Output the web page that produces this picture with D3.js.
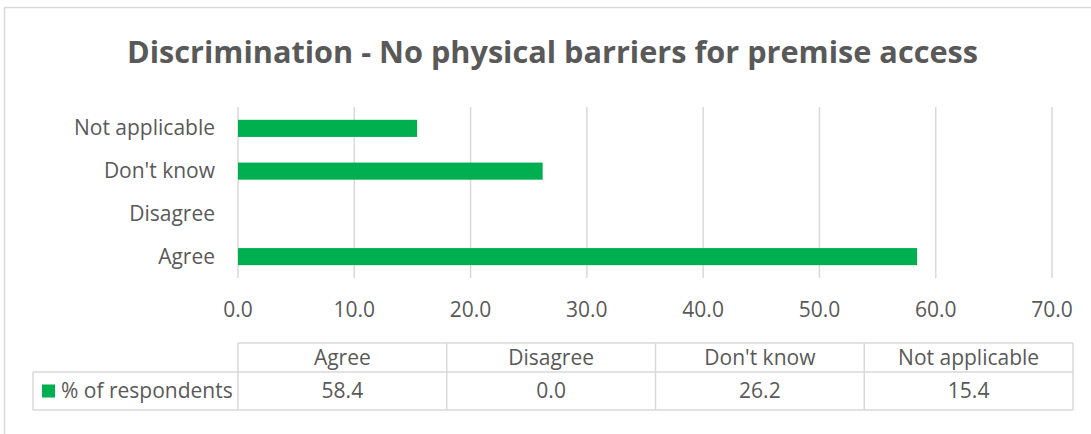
<!DOCTYPE html>
<html>
<head>
<meta charset="utf-8">
<script src="https://cdn.jsdelivr.net/npm/d3@7"></script>
<style>
  html, body { margin: 0; padding: 0; background: #fff; }
  svg { display: block; }
  text { font-family: "Open Sans", "Liberation Sans", sans-serif; fill: #595959; }
</style>
</head>
<body>
<svg id="chart" width="1091" height="434"></svg>
<script>
const title = "Discrimination - No physical barriers for premise access";
const categories = ["Agree", "Disagree", "Don't know", "Not applicable"];
const values = [58.4, 0.0, 26.2, 15.4];
const seriesName = "% of respondents";
const xTicks = [0, 10, 20, 30, 40, 50, 60, 70];

const green = "#00B050";
const grid = "#d9d9d9";
const svg = d3.select("#chart");

// outer chart border
svg.append("rect").attr("x", 4.5).attr("y", 7.5).attr("width", 1100).attr("height", 440)
  .attr("fill", "none").attr("stroke", "#d9d9d9").attr("stroke-width", 1.5);

// title
svg.append("text").attr("x", 552.5).attr("y", 63)
  .attr("text-anchor", "middle").attr("font-weight", "bold")
  .attr("font-size", 31).attr("textLength", 851).attr("lengthAdjust", "spacingAndGlyphs")
  .text(title);

const x = d3.scaleLinear().domain([0, 70]).range([238, 1052]);
const y = d3.scaleBand().domain(categories.slice().reverse()).range([107, 278])
  .paddingInner(0.6).paddingOuter(0.3);

// gridlines
svg.append("g").selectAll("line").data(xTicks).join("line")
  .attr("x1", d => x(d)).attr("x2", d => x(d))
  .attr("y1", 107).attr("y2", 278)
  .attr("stroke", grid).attr("stroke-width", 1.5);

// bars
svg.append("g").selectAll("rect").data(categories).join("rect")
  .attr("x", x(0))
  .attr("y", d => y(d))
  .attr("width", (d, i) => x(values[i]) - x(0))
  .attr("height", y.bandwidth())
  .attr("fill", green);

// y labels
const labelSize = 21;
svg.append("g").selectAll("text").data(categories).join("text")
  .attr("x", 215).attr("y", d => y(d) + y.bandwidth() / 2 + 7)
  .attr("text-anchor", "end").attr("font-size", labelSize).text(d => d);

// x tick labels
const fmt = d3.format(".1f");
svg.append("g").selectAll("text").data(xTicks).join("text")
  .attr("x", d => x(d)).attr("y", 317)
  .attr("text-anchor", "middle").attr("font-size", labelSize).text(d => fmt(d));

// data table
const col = d3.scaleBand().domain(categories).range([238, 1073]);
const hTop = 343, hBot = 372, rBot = 410, leftX = 33;
const tb = svg.append("g").attr("stroke", grid).attr("stroke-width", 1.5).attr("fill", "none");
tb.append("line").attr("x1", 238).attr("x2", 1073).attr("y1", hTop).attr("y2", hTop);
tb.append("line").attr("x1", leftX).attr("x2", 1073).attr("y1", hBot).attr("y2", hBot);
tb.append("line").attr("x1", leftX).attr("x2", 1073).attr("y1", rBot).attr("y2", rBot);
tb.append("line").attr("x1", leftX).attr("x2", leftX).attr("y1", hBot).attr("y2", rBot);
tb.selectAll("line.v").data(categories.concat(["end"])).join("line")
  .attr("x1", (d, i) => i < categories.length ? col(d) : 1073)
  .attr("x2", (d, i) => i < categories.length ? col(d) : 1073)
  .attr("y1", hTop).attr("y2", rBot);

svg.append("g").selectAll("text").data(categories).join("text")
  .attr("x", d => col(d) + col.bandwidth() / 2).attr("y", 365)
  .attr("text-anchor", "middle").attr("font-size", labelSize).text(d => d);
svg.append("g").selectAll("text").data(categories).join("text")
  .attr("x", d => col(d) + col.bandwidth() / 2).attr("y", 398)
  .attr("text-anchor", "middle").attr("font-size", labelSize).text((d, i) => fmt(values[i]));

// legend key + series name
svg.append("rect").attr("x", 42).attr("y", 384.5).attr("width", 13).attr("height", 13).attr("fill", green);
svg.append("text").attr("x", 61).attr("y", 398).attr("font-size", labelSize).text(seriesName);
</script>
</body>
</html>
